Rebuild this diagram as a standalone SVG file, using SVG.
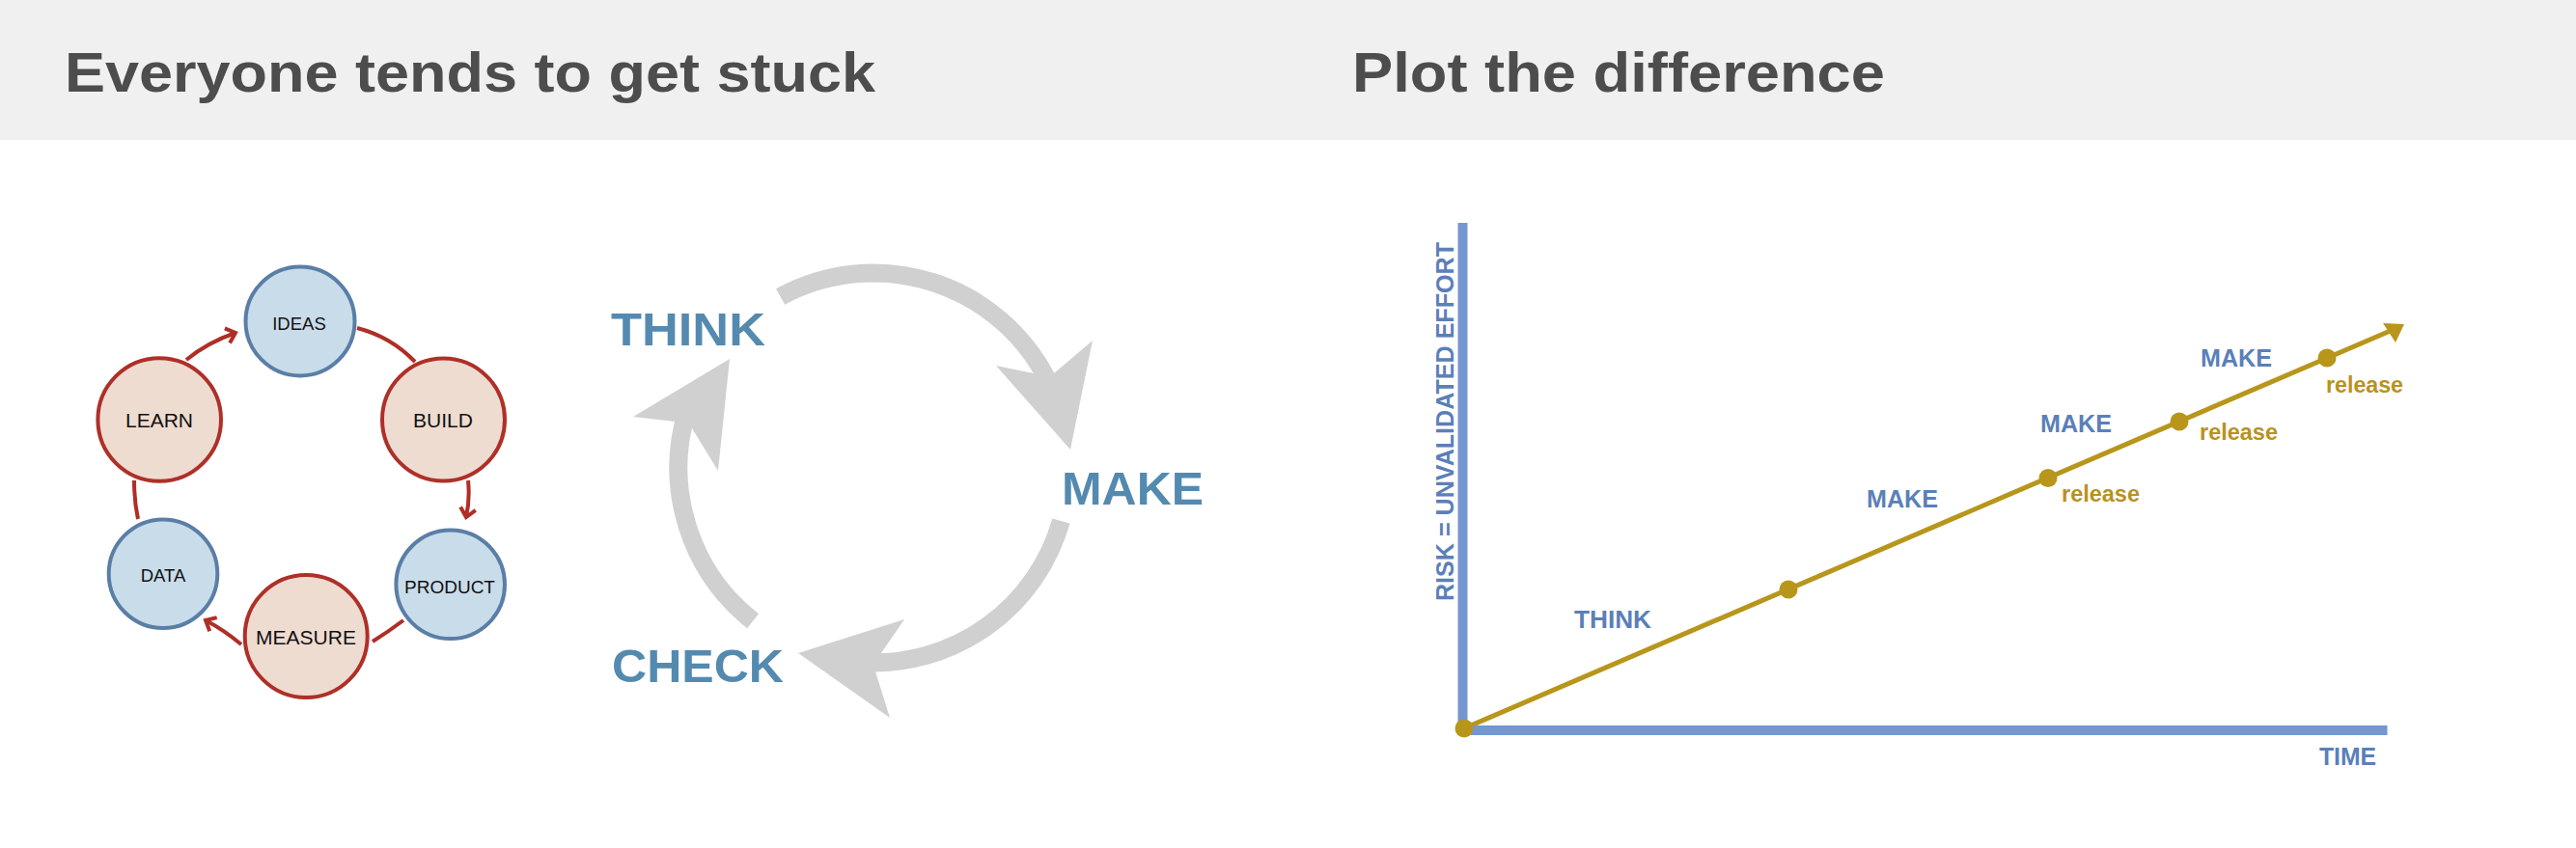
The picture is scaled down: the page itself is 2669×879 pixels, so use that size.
<svg xmlns="http://www.w3.org/2000/svg" width="2669" height="879" viewBox="0 0 2669 879">
<defs>
<style>
.title{font-family:"Liberation Sans",Arial,sans-serif;font-weight:bold;font-size:58px;fill:#4d4d4d}
.bl{fill:#c9dcea;stroke:#5a7ea6;stroke-width:4}
.rd{fill:#efdcd1;stroke:#ae3028;stroke-width:4}
.cl{font-family:"Liberation Sans",Arial,sans-serif;fill:#111;text-anchor:middle}
.red{fill:none;stroke:#ae2f27;stroke-width:4}
.big{font-family:"Liberation Sans",Arial,sans-serif;font-weight:bold;font-size:49px;fill:#548aaf}
.band{fill:none;stroke:#d0d0d0;stroke-width:19}
.head{fill:#d0d0d0}
.axis{fill:#7497d1}
.lab{font-family:"Liberation Sans",Arial,sans-serif;font-weight:bold;font-size:25px;fill:#5b7fb8}
.rel{font-family:"Liberation Sans",Arial,sans-serif;font-weight:bold;font-size:23px;fill:#b8921e}
.dot{fill:#b8961c}
</style>
<marker id="chev" markerUnits="userSpaceOnUse" markerWidth="30" markerHeight="30" viewBox="-15 -15 30 30" refX="0" refY="0" orient="auto">
<path d="M-9,-8 L0,0 L-9,8" fill="none" stroke="#ae2f27" stroke-width="4"/>
</marker>
</defs>

<rect x="0" y="0" width="2669" height="145" fill="#f0f0f0"/>
<rect x="0" y="145" width="2669" height="734" fill="#ffffff"/>
<text class="title" x="67" y="95" textLength="840" lengthAdjust="spacingAndGlyphs">Everyone tends to get stuck</text>
<text class="title" x="1401" y="95" textLength="552" lengthAdjust="spacingAndGlyphs">Plot the difference</text>

<g id="connectors">
<path class="red" d="M370,340 Q405,349 430,375"/>
<path class="red" d="M485,498 Q487,518 483,536" marker-end="url(#chev)"/>
<path class="red" d="M418,643 Q402,655 386,665"/>
<path class="red" d="M250,668 Q232,653 213,643" marker-end="url(#chev)"/>
<path class="red" d="M143,538 Q139,520 139,498"/>
<path class="red" d="M193,373 Q215,355 244,345" marker-end="url(#chev)"/>

<path class="band" d="M808.6,307.5 A202,202 0 0 1 1088.1,399.6"/>
<polygon class="head" points="1109,466 1032,379 1071,387 1092,387 1132,353"/>
<path class="band" d="M1099.4,540 A202,202 0 0 1 894.4,686.7"/>
<polygon class="head" points="827,677 937,642 913,677 907,696 922,744"/>
<path class="band" d="M780.1,643.8 A202,202 0 0 1 711.8,425.9"/>
<polygon class="head" points="756,372 656,432 700,437 717,444 744,488"/>

<line x1="1517" y1="755" x2="2480" y2="341.5" stroke="#b8961c" stroke-width="5"/>
<polygon class="dot" points="2491,336 2469,335 2482,355"/>
</g>

<g id="node-ideas"><circle class="bl" cx="311" cy="333" r="56.5"/><text class="cl" x="310" y="342" font-size="18.5">IDEAS</text></g>
<g id="node-build"><circle class="rd" cx="459.5" cy="435" r="63.5"/><text class="cl" x="459" y="443" font-size="21">BUILD</text></g>
<g id="node-product"><circle class="bl" cx="466.7" cy="605.8" r="56.3"/><text class="cl" x="466" y="615" font-size="19">PRODUCT</text></g>
<g id="node-measure"><circle class="rd" cx="317.2" cy="659.5" r="63.5"/><text class="cl" x="317" y="668" font-size="21">MEASURE</text></g>
<g id="node-data"><circle class="bl" cx="169" cy="594.7" r="56.3"/><text class="cl" x="169" y="603" font-size="18.5">DATA</text></g>
<g id="node-learn"><circle class="rd" cx="165.2" cy="435" r="63.8"/><text class="cl" x="165" y="443" font-size="21">LEARN</text></g>

<g id="node-think"><text class="big" x="633" y="358" textLength="160" lengthAdjust="spacingAndGlyphs">THINK</text></g>
<g id="node-make"><text class="big" x="1100" y="523" font-size="50" textLength="147" lengthAdjust="spacingAndGlyphs">MAKE</text></g>
<g id="node-check"><text class="big" x="634" y="707" textLength="178" lengthAdjust="spacingAndGlyphs">CHECK</text></g>

<g id="chart">
<rect class="axis" x="1510.5" y="231" width="10" height="531"/>
<rect class="axis" x="1510.5" y="752" width="963" height="10"/>
<text class="lab" transform="translate(1506,437) rotate(-90)" text-anchor="middle" font-size="27" textLength="372" lengthAdjust="spacingAndGlyphs">RISK = UNVALIDATED EFFORT</text>
<text class="lab" x="2403" y="793" textLength="59" lengthAdjust="spacingAndGlyphs">TIME</text>
<circle class="dot" cx="1517" cy="755" r="9.5"/>
<circle class="dot" cx="1853" cy="611" r="9.5"/>
<circle class="dot" cx="2122" cy="495.5" r="9.5"/>
<circle class="dot" cx="2258" cy="437" r="9.5"/>
<circle class="dot" cx="2411" cy="371" r="9.5"/>
<text class="lab" x="1631" y="651" textLength="80" lengthAdjust="spacingAndGlyphs">THINK</text>
<text class="lab" x="1934" y="526" textLength="74" lengthAdjust="spacingAndGlyphs">MAKE</text>
<text class="lab" x="2114" y="448" textLength="74" lengthAdjust="spacingAndGlyphs">MAKE</text>
<text class="lab" x="2280" y="380" textLength="74" lengthAdjust="spacingAndGlyphs">MAKE</text>
<text class="rel" x="2136" y="520" textLength="81" lengthAdjust="spacingAndGlyphs">release</text>
<text class="rel" x="2279" y="456" textLength="81" lengthAdjust="spacingAndGlyphs">release</text>
<text class="rel" x="2410" y="407" textLength="80" lengthAdjust="spacingAndGlyphs">release</text>
</g>
</svg>
